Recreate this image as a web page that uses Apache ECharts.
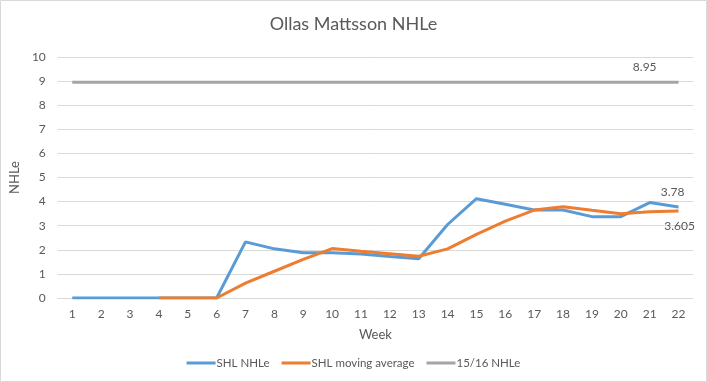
<!DOCTYPE html>
<html><head><meta charset="utf-8">
<script src="https://cdn.jsdelivr.net/npm/echarts@6/dist/echarts.min.js"></script>
<style>html,body{margin:0;padding:0;background:#fff}#c{width:707px;height:382px}</style>
</head><body><div id="c"></div>
<script>
const weeks = ['1','2','3','4','5','6','7','8','9','10','11','12','13','14','15','16','17','18','19','20','21','22'];
const shlNHLe = [0,0,0,0,0,0,2.33,2.04,1.875,1.875,1.83,1.72,1.63,3.05,4.12,3.89,3.65,3.65,3.375,3.375,3.96,3.78];
const shlMovingAvg = [null,null,null,0,0,0,0.62,1.11,1.6,2.05,1.94,1.84,1.73,2.04,2.64,3.19,3.65,3.79,3.64,3.5,3.58,3.605];
const prevSeason = [8.95,8.95,8.95,8.95,8.95,8.95,8.95,8.95,8.95,8.95,8.95,8.95,8.95,8.95,8.95,8.95,8.95,8.95,8.95,8.95,8.95,8.95];
const yTicks = [0,1,2,3,4,5,6,7,8,9,10];

const font = 'Lato, "Open Sans", sans-serif';
const txt = '#595959';
function lastLabel(arr, idx, pos, dist, dx) {
  return arr.map((v, i) => i === idx ? {value: v, label: {show: true, position: pos, color: txt, fontSize: 12, fontFamily: font, distance: dist, offset: [dx, 0]}} : v);
}
const chart = echarts.init(document.getElementById('c'));
chart.setOption({
  animation: false,
  title: {text: 'Ollas Mattsson NHLe', left: 'center', top: 10,
    textStyle: {fontFamily: font, fontSize: 18, fontWeight: 'normal', color: txt}},
  graphic: [{type: 'rect', shape: {x: 0.5, y: 0.5, width: 706, height: 381},
    style: {fill: 'none', stroke: '#d9d9d9', lineWidth: 1}, silent: true}],
  grid: {left: 57, right: 14, top: 57, bottom: 84, containLabel: false},
  legend: {bottom: 8, left: 'center', itemWidth: 29, itemHeight: 3, itemGap: 12,
    icon: 'rect',
    textStyle: {fontFamily: font, fontSize: 11.5, color: txt, padding: [0, 0, 0, -4]},
    data: ['SHL NHLe', 'SHL moving average', '15/16 NHLe']},
  xAxis: {type: 'category', data: weeks, boundaryGap: true,
    name: 'Week', nameLocation: 'middle', nameGap: 30,
    nameTextStyle: {fontFamily: font, fontSize: 13, color: txt},
    axisLine: {lineStyle: {color: '#d9d9d9', width: 1}},
    axisTick: {show: false},
    axisLabel: {fontFamily: font, fontSize: 12, color: txt, margin: 10, interval: 0}},
  yAxis: {type: 'value', min: yTicks[0], max: yTicks[yTicks.length - 1], interval: 1,
    name: 'NHLe', nameLocation: 'middle', nameGap: 34, nameRotate: 90,
    nameTextStyle: {fontFamily: font, fontSize: 13, color: txt},
    axisLine: {show: false}, axisTick: {show: false},
    splitLine: {lineStyle: {color: '#d9d9d9', width: 1}},
    axisLabel: {fontFamily: font, fontSize: 12, color: txt, margin: 12}},
  series: [
    {name: 'SHL NHLe', type: 'line', data: lastLabel(shlNHLe, 21, 'top', 9, -6),
      symbol: 'circle', symbolSize: 0, showSymbol: true,
      lineStyle: {color: '#5B9BD5', width: 3}, itemStyle: {color: '#5B9BD5'}},
    {name: 'SHL moving average', type: 'line', data: lastLabel(shlMovingAvg, 21, 'bottom', 9, 1),
      symbol: 'circle', symbolSize: 0, showSymbol: true,
      lineStyle: {color: '#ED7D31', width: 3}, itemStyle: {color: '#ED7D31'}},
    {name: '15/16 NHLe', type: 'line', data: lastLabel(prevSeason, 20, 'top', 9, -5),
      symbol: 'circle', symbolSize: 0, showSymbol: true,
      lineStyle: {color: '#A5A5A5', width: 3}, itemStyle: {color: '#A5A5A5'}}
  ]
});
</script></body></html>
